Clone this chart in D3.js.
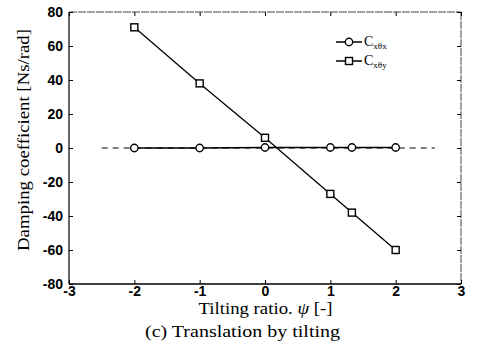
<!DOCTYPE html>
<html>
<head>
<meta charset="utf-8">
<script src="https://cdn.jsdelivr.net/npm/d3@7/dist/d3.min.js"></script>
<style>
  body { margin: 0; background: #fff; }
  svg { display: block; }
</style>
</head>
<body>
<svg id="chart" width="478" height="349"></svg>
<script>
// Tilting ratio values and damping coefficients for the two cross terms
const tilt = [-2, -1, 0, 1, 1.33, 2];
const cxThetaX = [0, 0, 0.3, 0.3, 0.3, 0.3];
const cxThetaY = [71, 38, 6, -27, -38, -60];
const xTicks = [-3, -2, -1, 0, 1, 2, 3];
const yTicks = [-80, -60, -40, -20, 0, 20, 40, 60, 80];
const zeroLine = [-2.5, 2.6];

const svg = d3.select("#chart");
const m = { left: 69, right: 461, top: 12, bottom: 284 };

const x = d3.scaleLinear().domain([-3, 3]).range([m.left, m.right]);
const y = d3.scaleLinear().domain([-80, 80]).range([m.bottom, m.top]);

const tickFont = "'Liberation Sans', Arial, sans-serif";
const serif = "'Liberation Serif', 'Times New Roman', serif";
const fmt = d => String(d);

// Frame: left and bottom solid, top and right lighter
svg.append("line").attr("x1", m.left).attr("x2", m.left).attr("y1", m.top).attr("y2", m.bottom)
  .attr("stroke", "#000").attr("stroke-width", 1.2);
svg.append("line").attr("x1", m.left).attr("x2", m.right).attr("y1", m.bottom).attr("y2", m.bottom)
  .attr("stroke", "#000").attr("stroke-width", 1.3);
svg.append("line").attr("x1", m.left).attr("x2", m.right).attr("y1", m.top).attr("y2", m.top)
  .attr("stroke", "#444").attr("stroke-width", 1).attr("stroke-dasharray", "8,1");
svg.append("line").attr("x1", m.right).attr("x2", m.right).attr("y1", m.top).attr("y2", m.bottom)
  .attr("stroke", "#444").attr("stroke-width", 1).attr("stroke-dasharray", "8,1");

// Axes with inward ticks
const tl = 4;
const xb = svg.append("g").attr("transform", `translate(0,${m.bottom})`)
  .call(d3.axisBottom(x).tickValues(xTicks).tickSize(-tl).tickPadding(4).tickFormat(fmt));
const xt = svg.append("g").attr("transform", `translate(0,${m.top})`)
  .call(d3.axisTop(x).tickValues(xTicks).tickSize(-tl).tickFormat(""));
const yl = svg.append("g").attr("transform", `translate(${m.left},0)`)
  .call(d3.axisLeft(y).tickValues(yTicks).tickSize(-tl).tickPadding(6).tickFormat(fmt));
const yr = svg.append("g").attr("transform", `translate(${m.right},0)`)
  .call(d3.axisRight(y).tickValues(yTicks).tickSize(-tl).tickFormat(""));

[xb, xt, yl, yr].forEach(g => {
  g.select(".domain").remove();
  g.selectAll(".tick line").attr("stroke", "#000");
  g.selectAll("text")
    .attr("fill", "#000")
    .style("font-family", tickFont)
    .style("font-weight", "bold")
    .style("font-size", "14px");
});
xb.selectAll("text").attr("dy", "0.6em");

// Dashed zero reference line
svg.append("line")
  .attr("x1", x(zeroLine[0])).attr("x2", x(zeroLine[1]))
  .attr("y1", y(0)).attr("y2", y(0))
  .attr("stroke", "#000").attr("stroke-width", 1.2)
  .attr("stroke-dasharray", "6,5");

const line = d3.line().x(d => x(d[0])).y(d => y(d[1]));
const s1 = tilt.map((t, i) => [t, cxThetaX[i]]);
const s2 = tilt.map((t, i) => [t, cxThetaY[i]]);

svg.append("path").datum(s1).attr("d", line)
  .attr("fill", "none").attr("stroke", "#000").attr("stroke-width", 1.6);
svg.append("path").datum(s2).attr("d", line)
  .attr("fill", "none").attr("stroke", "#000").attr("stroke-width", 1.3);

const r = 3.7;
svg.selectAll("circle.m").data(s1).enter().append("circle")
  .attr("class", "m")
  .attr("cx", d => x(d[0])).attr("cy", d => y(d[1])).attr("r", r)
  .attr("fill", "#fff").attr("stroke", "#000").attr("stroke-width", 1.4);

const sq = 7;
svg.selectAll("rect.m").data(s2).enter().append("rect")
  .attr("class", "m")
  .attr("x", d => x(d[0]) - sq / 2).attr("y", d => y(d[1]) - sq / 2)
  .attr("width", sq).attr("height", sq)
  .attr("fill", "#fff").attr("stroke", "#000").attr("stroke-width", 1.4);

// Legend
const legend = [
  { label: "x\u03B8x", mark: "circle", yy: 42 },
  { label: "x\u03B8y", mark: "square", yy: 61 }
];
legend.forEach(e => {
  svg.append("line").attr("x1", 336).attr("x2", 362).attr("y1", e.yy).attr("y2", e.yy)
    .attr("stroke", "#000").attr("stroke-width", 1.5);
  if (e.mark === "circle") {
    svg.append("circle").attr("cx", 349).attr("cy", e.yy).attr("r", r)
      .attr("fill", "#fff").attr("stroke", "#000").attr("stroke-width", 1.4);
  } else {
    svg.append("rect").attr("x", 349 - sq / 2).attr("y", e.yy - sq / 2)
      .attr("width", sq).attr("height", sq)
      .attr("fill", "#fff").attr("stroke", "#000").attr("stroke-width", 1.4);
  }
  const t = svg.append("text").attr("x", 364).attr("y", e.yy + 4)
    .style("font-family", serif).style("font-size", "14px");
  t.append("tspan").text("C");
  t.append("tspan").attr("dy", 3).style("font-size", "9px").text(e.label);
});

// Axis titles and caption
svg.append("text")
  .attr("transform", `translate(29,140) rotate(-90)`)
  .attr("text-anchor", "middle")
  .attr("textLength", 222).attr("lengthAdjust", "spacingAndGlyphs")
  .style("font-family", serif).style("font-size", "17px")
  .text("Damping coefficient [Ns/rad]");

const xl = svg.append("text")
  .attr("x", 265.5).attr("y", 314)
  .attr("text-anchor", "middle")
  .attr("textLength", 134).attr("lengthAdjust", "spacingAndGlyphs")
  .style("font-family", serif).style("font-size", "16.5px");
xl.append("tspan").text("Tilting ratio. ");
xl.append("tspan").style("font-style", "italic").text("\u03C8");
xl.append("tspan").text(" [-]");

svg.append("text")
  .attr("x", 242.5).attr("y", 337)
  .attr("text-anchor", "middle")
  .attr("textLength", 195).attr("lengthAdjust", "spacingAndGlyphs")
  .style("font-family", serif).style("font-size", "16.5px")
  .text("(c) Translation by tilting");
</script>
</body>
</html>
